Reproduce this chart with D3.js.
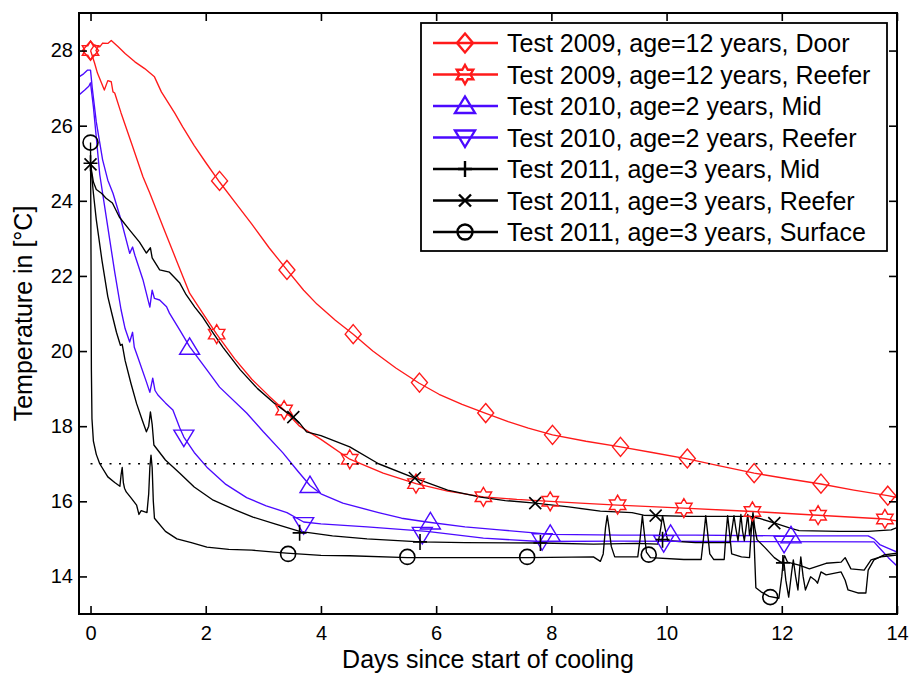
<!DOCTYPE html>
<html>
<head>
<meta charset="utf-8">
<script src="https://cdn.jsdelivr.net/npm/d3@7"></script>
<style>
body { margin: 0; background: #fff; }
svg { font-family: "Liberation Sans", Arial, Helvetica, sans-serif; }
</style>
</head>
<body>
<svg id="svg1" width="911" height="674"></svg>
<script>
// tick labels
const xTicks = [0, 2, 4, 6, 8, 10, 12, 14];
const yTicks = [14, 16, 18, 20, 22, 24, 26, 28];
const thresholdTemp = 17;

const legendLabels = [
  "Test 2009, age=12 years, Door",
  "Test 2009, age=12 years, Reefer",
  "Test 2010, age=2 years, Mid",
  "Test 2010, age=2 years, Reefer",
  "Test 2011, age=3 years, Mid",
  "Test 2011, age=3 years, Reefer",
  "Test 2011, age=3 years, Surface"
];

// series data, [days, temperature]
const door2009 = [[0,28.0],[0.07,28.15],[0.16,28.1],[0.21,28.2],[0.3,28.19],[0.36,28.27],[0.48,28.1],[0.6,27.92],[0.77,27.7],[0.94,27.52],[1.11,27.3],[1.23,26.9],[1.46,26.34],[1.6,25.97],[1.8,25.47],[2.0,25.02],[2.24,24.5],[2.5,23.98],[2.8,23.38],[3.1,22.75],[3.41,22.16],[3.7,21.62],[3.93,21.25],[4.25,20.82],[4.56,20.45],[4.9,20.0],[5.3,19.55],[5.7,19.15],[6.05,18.85],[6.45,18.58],[6.85,18.35],[7.25,18.12],[7.6,17.95],[8.02,17.77],[8.6,17.6],[9.2,17.45],[9.75,17.3],[10.36,17.13],[10.9,16.95],[11.52,16.75],[12.1,16.6],[12.68,16.46],[13.25,16.3],[13.84,16.15],[14.0,16.1]];
const door2009Marks = [[0,28.0],[2.24,24.53],[3.41,22.16],[4.56,20.45],[5.71,19.16],[6.86,18.35],[8.02,17.77],[9.2,17.45],[10.36,17.14],[11.52,16.75],[12.68,16.47],[13.84,16.15]];

const reefer2009 = [[0,28.0],[0.07,27.67],[0.12,27.4],[0.24,26.95],[0.3,27.2],[0.36,27.17],[0.39,26.9],[0.42,26.87],[0.53,26.34],[0.71,25.54],[0.91,24.64],[1.03,24.2],[1.26,23.3],[1.49,22.42],[1.72,21.54],[1.93,21.05],[2.19,20.45],[2.5,19.8],[2.8,19.25],[3.1,18.8],[3.36,18.43],[3.63,18.0],[4.0,17.65],[4.5,17.12],[5.08,16.75],[5.65,16.47],[6.2,16.27],[6.82,16.12],[7.4,16.05],[7.98,16.0],[8.5,15.95],[9.15,15.9],[10.3,15.82],[11.49,15.73],[12.63,15.63],[13.79,15.53],[14.0,15.48]];
const reefer2009Marks = [[0,28.0],[2.19,20.45],[3.36,18.43],[4.5,17.12],[5.65,16.47],[6.82,16.12],[7.98,16.0],[9.15,15.91],[10.3,15.82],[11.49,15.73],[12.63,15.63],[13.79,15.53]];

const mid2010 = [[-0.2,27.3],[-0.12,27.38],[-0.05,27.48],[0.0,27.48],[0.03,27.0],[0.1,26.1],[0.21,25.09],[0.3,24.55],[0.39,24.2],[0.53,23.49],[0.68,22.6],[0.73,22.77],[0.77,22.55],[0.91,21.9],[1.03,21.17],[1.07,21.62],[1.11,21.4],[1.2,21.36],[1.32,21.18],[1.37,21.01],[1.55,20.56],[1.72,20.12],[2.02,19.5],[2.24,19.04],[2.71,18.35],[3.0,17.85],[3.34,17.29],[3.6,16.8],[3.81,16.42],[4.0,16.2],[4.38,15.95],[5.0,15.7],[5.4,15.55],[5.84,15.45],[6.5,15.32],[7.1,15.24],[8.0,15.12],[9.2,15.1],[10.5,15.1],[12.0,15.08],[13.5,15.08],[13.6,15.0],[13.7,14.85],[13.85,14.75],[14.0,14.65]];
const mid2010Marks = [[1.72,20.1],[3.81,16.42],[5.9,15.45],[7.98,15.12],[10.07,15.12],[12.16,15.08]];

const reefer2010 = [[-0.2,26.82],[-0.1,26.95],[-0.03,27.05],[0.0,27.14],[0.05,26.5],[0.13,25.2],[0.16,24.7],[0.3,23.3],[0.42,22.1],[0.53,21.1],[0.6,20.6],[0.68,20.24],[0.73,20.5],[0.76,20.1],[0.82,19.84],[0.97,19.18],[1.03,18.9],[1.08,19.28],[1.12,18.95],[1.17,18.83],[1.3,18.62],[1.43,18.43],[1.55,17.95],[1.62,17.71],[1.8,17.3],[2.02,16.91],[2.35,16.45],[2.71,16.1],[3.05,15.88],[3.41,15.7],[3.7,15.45],[4.0,15.4],[4.8,15.32],[5.84,15.2],[6.82,15.02],[7.8,14.93],[9.2,14.94],[11.0,14.93],[13.6,14.92],[13.7,14.75],[13.85,14.5],[14.0,14.28]];
const reefer2010Marks = [[1.62,17.71],[3.7,15.38],[5.76,15.12],[7.84,14.95],[9.95,14.9],[12.04,14.88]];

const mid2011 = [[0,25.0],[0.05,24.2],[0.1,23.5],[0.2,22.4],[0.3,21.45],[0.37,21.0],[0.45,20.5],[0.52,20.15],[0.55,20.18],[0.6,19.75],[0.7,19.15],[0.8,18.6],[0.9,18.15],[0.97,17.85],[1.01,18.0],[1.04,18.38],[1.07,18.05],[1.1,17.5],[1.3,17.1],[1.55,16.75],[1.8,16.38],[2.13,16.03],[2.5,15.78],[2.82,15.58],[3.2,15.4],[3.63,15.2],[4.2,15.08],[4.8,15.0],[5.72,14.92],[6.5,14.9],[7.81,14.89],[8.73,14.86],[9.5,14.88],[9.85,14.86],[9.9,15.3],[9.93,15.62],[9.97,15.3],[10.02,14.95],[10.5,14.9],[11.1,14.9],[11.14,15.3],[11.17,15.62],[11.2,15.3],[11.24,14.95],[11.26,15.2],[11.29,15.65],[11.32,15.2],[11.35,14.95],[11.38,15.3],[11.41,15.65],[11.44,15.1],[11.47,15.35],[11.5,15.7],[11.53,15.3],[11.57,14.98],[11.7,14.78],[11.87,14.5],[12.0,14.36],[12.05,14.55],[12.1,14.38],[12.3,14.3],[12.48,14.2],[12.77,14.35],[13.03,14.38],[13.1,14.5],[13.2,14.2],[13.43,14.17],[13.55,14.44],[13.72,14.52],[14.0,14.57]];
const mid2011Marks = [[0,25.0],[3.63,15.16],[5.72,14.92],[7.81,14.89],[9.93,14.98],[12.02,14.36]];

const reefer2011 = [[0,24.97],[0.05,24.5],[0.1,24.3],[0.19,24.2],[0.27,24.07],[0.38,23.94],[0.5,23.57],[0.68,23.22],[0.85,22.9],[0.97,22.61],[1.04,22.75],[1.07,22.48],[1.2,22.16],[1.37,22.1],[1.55,21.81],[1.66,21.5],[1.81,21.17],[1.95,20.9],[2.13,20.48],[2.3,20.1],[2.6,19.5],[2.9,19.0],[3.2,18.6],[3.52,18.24],[3.63,18.08],[3.75,17.85],[4.0,17.75],[4.5,17.45],[5.0,17.0],[5.63,16.62],[6.2,16.3],[6.77,16.11],[7.2,16.02],[7.72,15.95],[8.3,15.85],[8.85,15.74],[9.4,15.7],[9.6,15.63],[10.4,15.6],[11.45,15.6],[11.6,15.55],[11.88,15.42],[12.16,15.28],[12.3,15.22],[13.0,15.2],[13.5,15.2],[13.9,15.24],[14.0,15.3]];
const reefer2011Marks = [[0,24.97],[3.52,18.24],[5.63,16.62],[7.72,15.95],[9.81,15.62],[11.87,15.42]];

const surface2011 = [[0,25.55],[0.01,22.0],[0.015,19.5],[0.025,18.2],[0.05,17.6],[0.1,17.25],[0.16,17.0],[0.3,16.65],[0.42,16.5],[0.51,16.4],[0.53,16.7],[0.55,16.9],[0.57,16.5],[0.59,16.35],[0.62,16.25],[0.7,16.1],[0.8,15.9],[0.84,15.65],[0.88,15.75],[0.98,15.7],[1.01,16.2],[1.03,16.9],[1.05,17.23],[1.07,16.9],[1.09,16.0],[1.11,15.55],[1.3,15.2],[1.5,15.0],[1.75,14.9],[2.02,14.78],[2.4,14.72],[2.8,14.7],[3.4,14.62],[4.0,14.56],[4.5,14.55],[5.5,14.5],[6.5,14.5],[7.6,14.5],[8.73,14.52],[8.85,14.4],[8.9,14.6],[8.94,15.3],[8.97,15.62],[9.0,15.3],[9.04,14.8],[9.1,14.52],[9.5,14.52],[9.54,15.0],[9.58,15.62],[9.61,15.2],[9.65,14.65],[9.72,14.5],[10.3,14.45],[10.6,14.45],[10.64,15.0],[10.68,15.62],[10.71,15.2],[10.75,14.6],[10.82,14.45],[11.0,14.45],[11.03,15.1],[11.06,15.62],[11.09,15.2],[11.13,14.6],[11.3,14.52],[11.44,14.5],[11.47,15.2],[11.5,15.62],[11.52,14.9],[11.55,13.7],[11.64,13.59],[11.78,13.47],[11.95,13.42],[12.0,14.0],[12.03,14.49],[12.07,13.9],[12.12,13.45],[12.17,14.1],[12.2,14.44],[12.24,14.0],[12.28,13.64],[12.31,14.2],[12.33,14.52],[12.37,14.0],[12.41,13.64],[12.5,13.99],[12.58,13.9],[12.62,13.82],[12.68,14.12],[12.77,14.04],[13.03,14.12],[13.1,13.9],[13.15,13.64],[13.32,13.56],[13.46,13.56],[13.5,14.17],[13.6,14.44],[13.77,14.57],[14.0,14.62]];
const surface2011Marks = [[0,25.55],[3.43,14.6],[5.5,14.52],[7.58,14.52],[9.69,14.58],[11.8,13.45]];

const red = "#ff1a1a", blue = "#4b0aff", black = "#000";

// table used for drawing
const series = [
  {line: door2009,    marks: door2009Marks,    color: red,   shape: "diamond"},
  {line: reefer2009,  marks: reefer2009Marks,  color: red,   shape: "hexagram"},
  {line: mid2010,     marks: mid2010Marks,     color: blue,  shape: "up"},
  {line: reefer2010,  marks: reefer2010Marks,  color: blue,  shape: "down"},
  {line: mid2011,     marks: mid2011Marks,     color: black, shape: "plus"},
  {line: reefer2011,  marks: reefer2011Marks,  color: black, shape: "cross"},
  {line: surface2011, marks: surface2011Marks, color: black, shape: "circle"}
];

// marker outlines centred on 0,0 (matlab style, not filled)
function shapePath(s) {
  if (s == "diamond") return "M0,-9.5L8,0L0,9.5L-8,0Z";
  if (s == "hexagram") {
    let p = [];
    for (let i = 0; i < 12; i++) {
      const a = -Math.PI / 2 + i * Math.PI / 6, r = (i % 2 == 0) ? 9.5 : 9.5 / Math.sqrt(3);
      p.push([r * Math.cos(a), r * Math.sin(a)]);
    }
    return "M" + p.join("L") + "Z";
  }
  if (s == "up") return "M0,-9.5L10,7L-10,7Z";
  if (s == "down") return "M0,9.5L10,-7L-10,-7Z";
  if (s == "plus") return "M-7,0H7M0,-8V8";
  if (s == "cross") return "M-6,-6L6,6M-6,6L6,-6";
  return d3.symbol(d3.symbolCircle, Math.PI * 7.5 * 7.5)();
}

const svg = d3.select("#svg1"),
      plotLeft = 79, plotRight = 897, plotTop = 13, plotBottom = 614,
      x = d3.scaleLinear().domain([-0.2, 14]).range([plotLeft, plotRight]),
      y = d3.scaleLinear().domain([13, 29]).range([plotBottom, plotTop]);

svg.append("rect").attr("width", 911).attr("height", 674).attr("fill", "#fff");

svg.append("clipPath").attr("id", "plotClip")
  .append("rect").attr("x", plotLeft).attr("y", plotTop)
  .attr("width", plotRight - plotLeft).attr("height", plotBottom - plotTop);

const line = d3.line().x(d => x(d[0])).y(d => y(d[1]));

// the curves
series.forEach(s => {
  svg.append("path")
    .datum(s.line)
    .attr("clip-path", "url(#plotClip)")
    .attr("fill", "none")
    .attr("stroke", s.color)
    .attr("stroke-width", 1.35)
    .attr("stroke-linejoin", "round")
    .attr("d", line);
});

// markers
series.forEach(s => {
  svg.selectAll(null)
    .data(s.marks)
    .enter().append("path")
      .attr("transform", d => `translate(${x(d[0])},${y(d[1])})`)
      .attr("d", shapePath(s.shape))
      .attr("fill", "none")
      .attr("stroke", s.color)
      .attr("stroke-width", s.color == black ? 1.6 : 1.4);
});

// 17 degree threshold
svg.append("line")
  .attr("x1", x(0)).attr("x2", x(14))
  .attr("y1", y(thresholdTemp)).attr("y2", y(thresholdTemp))
  .attr("stroke", "#000").attr("stroke-width", 1.6)
  .attr("stroke-dasharray", "2,7.5");

// axes, ticks pointing inwards
const fontTick = "20px";
svg.append("g").attr("transform", `translate(0,${plotBottom})`)
  .call(d3.axisBottom(x).tickValues(xTicks).tickSize(-8).tickPadding(12))
  .call(g => g.select(".domain").remove());
svg.append("g").attr("transform", `translate(0,${plotTop})`)
  .call(d3.axisTop(x).tickValues(xTicks).tickSize(-8).tickFormat(""))
  .call(g => g.select(".domain").remove());
svg.append("g").attr("transform", `translate(${plotLeft},0)`)
  .call(d3.axisLeft(y).tickValues(yTicks).tickSize(-8).tickPadding(6))
  .call(g => g.select(".domain").remove());
svg.append("g").attr("transform", `translate(${plotRight},0)`)
  .call(d3.axisRight(y).tickValues(yTicks).tickSize(-8).tickFormat(""))
  .call(g => g.select(".domain").remove());

svg.selectAll(".tick line").attr("stroke", "#000").attr("stroke-width", 1.6);
svg.selectAll(".tick text")
  .attr("fill", "#000")
  .style("font-size", fontTick)
  .style("font-family", "'Liberation Sans', Arial, sans-serif");

svg.append("rect")
  .attr("x", plotLeft).attr("y", plotTop)
  .attr("width", plotRight - plotLeft).attr("height", plotBottom - plotTop)
  .attr("fill", "none").attr("stroke", "#000").attr("stroke-width", 2);

// axis labels
svg.append("text")
  .attr("x", (plotLeft + plotRight) / 2).attr("y", 668)
  .attr("text-anchor", "middle")
  .style("font-size", "25px")
  .text("Days since start of cooling");
svg.append("text")
  .attr("transform", "rotate(-90)")
  .attr("x", -(plotTop + plotBottom) / 2).attr("y", 32)
  .attr("text-anchor", "middle")
  .style("font-size", "25px")
  .text("Temperature in [°C]");

// legend
const lg = svg.append("g").attr("transform", "translate(421,23)");
lg.append("rect").attr("width", 466).attr("height", 228)
  .attr("fill", "#fff").attr("stroke", "#000").attr("stroke-width", 1.8);

series.forEach((s, i) => {
  const cy = 20 + i * 31.5;
  lg.append("line")
    .attr("x1", 12).attr("x2", 77).attr("y1", cy).attr("y2", cy)
    .attr("stroke", s.color).attr("stroke-width", 2.6);
  lg.append("path")
    .attr("transform", `translate(44,${cy})`)
    .attr("d", shapePath(s.shape))
    .attr("fill", "none").attr("stroke", s.color).attr("stroke-width", 2.4);
  lg.append("text")
    .attr("x", 86).attr("y", cy + 9)
    .style("font-size", "25px")
    .text(legendLabels[i]);
});
</script>
</body>
</html>
